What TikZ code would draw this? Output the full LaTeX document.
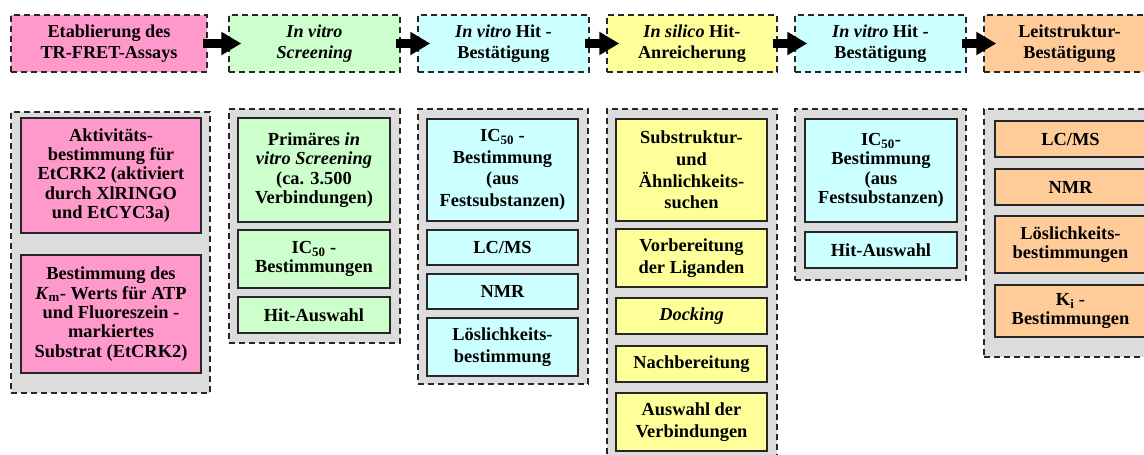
\documentclass[tikz,border=0pt]{standalone}
\usepackage{fontspec}
\setmainfont{Liberation Serif}
\usetikzlibrary{arrows.meta}

\definecolor{rosa}{HTML}{FF99CC}
\definecolor{gruen}{HTML}{CCFFCC}
\definecolor{tuerkis}{HTML}{CCFFFF}
\definecolor{gelb}{HTML}{FFFF99}
\definecolor{apricot}{HTML}{FFCC99}
\definecolor{grau}{HTML}{DCDCDC}
\definecolor{rand}{HTML}{262626}

\begin{document}
\begin{tikzpicture}[
  x=1pt, y=-1pt,
  txt/.style={align=center, inner sep=0pt,
    font=\fontsize{18.4}{19.3}\selectfont\bfseries},
  wide/.style={font=\fontsize{18.4}{21.7}\selectfont\bfseries},
  phase/.style={txt, draw=rand, line width=1.4pt, dash pattern=on 6pt off 4pt,
    minimum height=57pt, font=\fontsize{18.2}{20.7}\selectfont\bfseries},
  group/.style={draw=rand, line width=1.4pt, dash pattern=on 6pt off 4pt,
    fill=grau, inner sep=0pt},
  task/.style={txt, draw=rand, line width=1.6pt},
  bigarrow/.style={line width=9.5pt, -{Triangle[length=20pt,width=22pt]}},
]
\useasboundingbox (0,0) rectangle (1144,455);
\clip (0,0) rectangle (1144,455);

% project phases
\node[phase, fill=rosa,    minimum width=196pt] (P1) at (109,43.5)
  {Etablierung des\\TR-FRET-Assays};
\node[phase, fill=gruen,   minimum width=171pt] (P2) at (314.5,43.5)
  {\textit{In vitro}\\\textit{Screening}};
\node[phase, fill=tuerkis, minimum width=171pt] (P3) at (503.5,43.5)
  {\textit{In vitro} Hit -\\Bestätigung};
\node[phase, fill=gelb,    minimum width=170pt] (P4) at (692,43.5)
  {\textit{In silico} Hit-\\Anreicherung};
\node[phase, fill=tuerkis, minimum width=171pt] (P5) at (880.5,43.5)
  {\textit{In vitro} Hit -\\Bestätigung};
\node[phase, fill=apricot, minimum width=171pt] (P6) at (1069.5,43.5)
  {Leitstruktur-\\Bestätigung};

% flow between phases
\foreach \a/\b in {P1/P2,P2/P3,P3/P4,P4/P5,P5/P6}
  \draw[bigarrow] ([xshift=-5pt]\a.east) -- ([xshift=13pt]\b.west);

% grey panels holding the work steps
\node[group, minimum width=199pt, minimum height=281pt] (G1) at (110.5,252.5) {};
\node[group, minimum width=171pt, minimum height=234pt] (G2) at (314.5,226) {};
\node[group, minimum width=170pt, minimum height=275pt] (G3) at (503,246.5) {};
\node[group, minimum width=170pt, minimum height=361pt] (G4) at (692,289.5) {};
\node[group, minimum width=171pt, minimum height=171pt] (G5) at (880.5,194.5) {};
\node[group, minimum width=171pt, minimum height=248pt] (G6) at (1069.5,233) {};

% assay establishment
\begin{scope}[every node/.style={task, fill=rosa, minimum width=180pt}]
\node[minimum height=115pt] (A1) at (111,175.5)
  {Aktivitäts-\\bestimmung für\\EtCRK2 (aktiviert\\durch XlRINGO\\und EtCYC3a)};
\node[minimum height=118pt] (A2) at (111,314)
  {Bestimmung des\\\textit{K}\textsubscript{m}- Werts für ATP\\und Fluoreszein -\\markiertes\\Substrat (EtCRK2)};
\end{scope}

% in vitro screening
\begin{scope}[every node/.style={task, fill=gruen, minimum width=152pt}]
\node[minimum height=104pt] (B1) at (314,170)
  {Primäres \textit{in}\\\textit{vitro Screening}\\(ca. 3.500\\Verbindungen)};
\node[minimum height=58pt] (B2) at (314,259)
  {IC\textsubscript{50} -\\Bestimmungen};
\node[minimum height=36pt] (B3) at (314,315) {Hit-Auswahl};
\end{scope}

% in vitro hit confirmation
\begin{scope}[every node/.style={task, wide, fill=tuerkis, minimum width=151pt}]
\node[minimum height=102pt] (C1) at (502.5,170)
  {IC\textsubscript{50} -\\Bestimmung\\(aus\\Festsubstanzen)};
\node[minimum height=35pt] (C2) at (502.5,247.5) {LC/MS};
\node[minimum height=35pt] (C3) at (502.5,291.5) {NMR};
\node[minimum height=58pt] (C4) at (502.5,347) {Löslichkeits-\\bestimmung};
\end{scope}

% in silico hit enrichment
\begin{scope}[every node/.style={task, wide, fill=gelb, minimum width=151pt}]
\node[minimum height=102pt] (D1) at (691.5,170)
  {Substruktur-\\und\\Ähnlichkeits-\\suchen};
\node[minimum height=58pt] (D2) at (691.5,258) {Vorbereitung\\der Liganden};
\node[minimum height=36pt] (D3) at (691.5,316) {\textit{Docking}};
\node[minimum height=36pt] (D4) at (691.5,364) {Nachbereitung};
\node[minimum height=58pt] (D5) at (691.5,422) {Auswahl der\\Verbindungen};
\end{scope}

% second in vitro hit confirmation
\begin{scope}[every node/.style={task, fill=tuerkis, minimum width=152pt}]
\node[minimum height=103pt] (E1) at (881,170.5)
  {IC\textsubscript{50}-\\Bestimmung\\(aus\\Festsubstanzen)};
\node[minimum height=36pt] (E2) at (881,250) {Hit-Auswahl};
\end{scope}

% lead structure confirmation
\begin{scope}[every node/.style={task, fill=apricot, minimum width=151pt}]
\node[minimum height=36pt] (F1) at (1070.5,139) {LC/MS};
\node[minimum height=36pt] (F2) at (1070.5,187) {NMR};
\node[minimum height=57pt] (F3) at (1070.5,244.5) {Löslichkeits-\\bestimmungen};
\node[minimum height=52pt] (F4) at (1070.5,311) {K\textsubscript{i} -\\Bestimmungen};
\end{scope}
\end{tikzpicture}
\end{document}
